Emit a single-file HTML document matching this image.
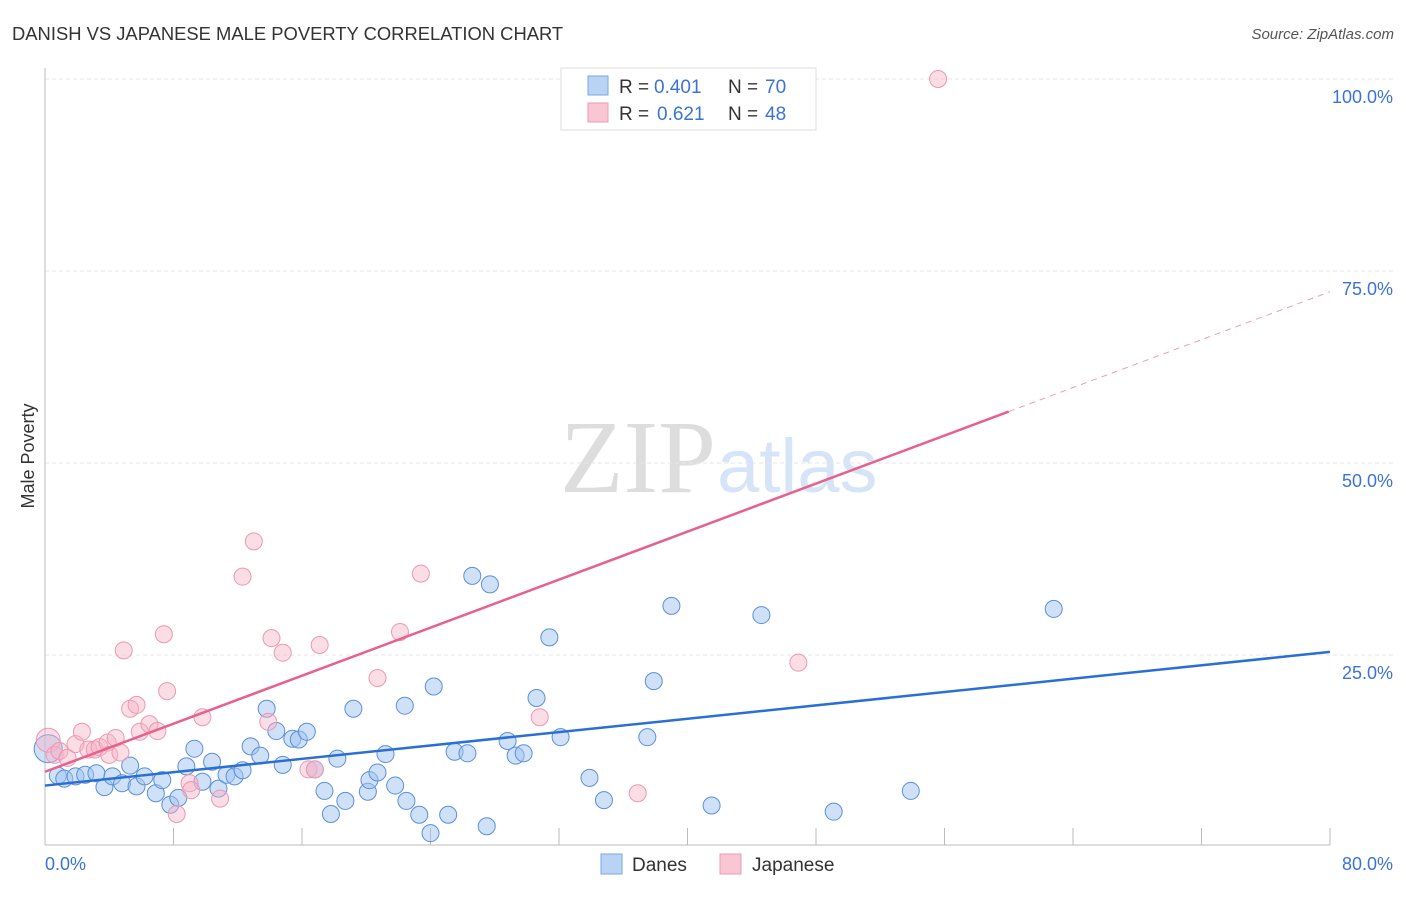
<!DOCTYPE html>
<html><head><meta charset="utf-8"><style>
body{margin:0;background:#fff;font-family:"Liberation Sans",sans-serif}
</style></head><body>
<svg width="1406" height="892" xmlns="http://www.w3.org/2000/svg">
<text x="12" y="40" font-size="18.4" fill="#333">DANISH VS JAPANESE MALE POVERTY CORRELATION CHART</text>
<text x="1394" y="39" font-size="15" fill="#555" font-style="italic" text-anchor="end">Source: ZipAtlas.com</text>
<text x="716" y="492" font-size="104" fill="#ddd" text-anchor="end" font-family="Liberation Serif">ZIP</text>
<text x="717" y="492" font-size="76" fill="#d6e4f7">atlas</text>
<g id="grid"></g>
<line x1="45" y1="68" x2="45" y2="845" stroke="#bbb"/>
<line x1="45" y1="845" x2="1330" y2="845" stroke="#bbb"/>
<text x="34" y="456" font-size="18" fill="#333" text-anchor="middle" transform="rotate(-90 34 456)">Male Poverty</text>
<text x="45" y="870" font-size="18" fill="#3a73d6">0.0%</text>
<text x="1393" y="870" font-size="18" fill="#3a73d6" text-anchor="end">80.0%</text>
<g id="pts"></g>
<g id="lines"></g>
<g>
<rect x="561" y="68" width="255" height="62" fill="#fff" stroke="#ddd"/>
<rect x="588" y="76" width="20" height="19" fill="#b9d3f5" stroke="#7aa6e6"/>
<rect x="588" y="103" width="20" height="19" fill="#f9c6d4" stroke="#ee9ab2"/>
<text y="93" font-size="19" fill="#333"><tspan x="619">R =</tspan><tspan x="654" fill="#3a73d6">0.401</tspan><tspan x="728">N =</tspan><tspan x="765" fill="#3a73d6">70</tspan></text>
<text y="120" font-size="19" fill="#333"><tspan x="619">R =</tspan><tspan x="657" fill="#3a73d6">0.621</tspan><tspan x="728">N =</tspan><tspan x="765" fill="#3a73d6">48</tspan></text>
</g>
<g>
<rect x="601" y="854" width="21" height="20" fill="#b9d3f5" stroke="#7aa6e6"/>
<text x="632" y="871" font-size="19" fill="#333">Danes</text>
<rect x="720" y="854" width="21" height="20" fill="#f9c6d4" stroke="#ee9ab2"/>
<text x="752" y="871" font-size="19" fill="#333">Japanese</text>
</g>
</svg>
<script>
const yTicks=[25,50,75,100];
const yTickLabels=["25.0%","50.0%","75.0%","100.0%"];
const danesX=[0.2,0.8,1.2,1.9,2.5,3.2,3.7,4.2,4.8,5.3,5.7,6.2,6.9,7.3,7.8,8.3,8.8,9.3,9.8,10.4,10.8,11.3,11.8,12.3,12.8,13.4,13.8,14.4,14.8,15.4,15.8,16.3,16.8,17.4,17.8,18.2,18.7,19.2,20.1,20.2,20.7,21.2,21.8,22.4,22.5,23.3,24.0,24.2,25.1,25.5,26.3,26.6,27.5,27.7,28.8,29.3,29.8,30.6,31.4,32.1,33.9,34.8,37.5,37.9,39.0,41.5,44.6,49.1,53.9,62.8];
const danesY=[12.8,9.3,8.9,9.2,9.4,9.6,7.8,9.2,8.3,10.6,7.9,9.2,7.0,8.7,5.5,6.4,10.5,12.8,8.5,11.1,7.6,9.4,9.2,10.0,13.1,11.9,18.0,15.1,10.7,14.1,14.0,15.0,10.1,7.3,4.3,11.5,6.0,18.0,7.2,8.7,9.7,12.1,8.0,18.4,6.0,4.2,1.8,20.9,4.2,12.4,12.2,35.3,2.7,34.2,13.8,11.9,12.2,19.4,27.3,14.3,9.0,6.1,14.3,21.6,31.4,5.4,30.2,4.6,7.3,31.0];
const japX=[0.2,0.6,0.9,1.4,1.9,2.3,2.7,3.1,3.4,3.9,4.0,4.4,4.7,4.9,5.3,5.7,5.9,6.5,7.0,7.4,7.6,8.2,9.0,9.1,9.8,10.9,12.3,13.0,13.9,14.1,14.8,16.4,16.8,17.1,20.7,22.1,23.4,30.8,36.9,46.9,55.6];
const japY=[13.9,12.0,12.5,11.6,13.4,15.0,12.7,12.7,13.0,13.6,12.0,14.2,12.3,25.6,18.0,18.5,15.0,16.0,15.1,27.7,20.3,4.3,8.3,7.4,16.9,6.3,35.2,39.8,16.3,27.2,25.3,10.1,10.1,26.3,22.0,28.0,35.6,16.9,7.0,24.0,100];
const blueLine=[[0,8.0],[80,25.4]];
const pinkSolid=[[0,9.8],[60,56.7]];
const pinkDash=[[60,56.7],[80,72.3]];
const NS="http://www.w3.org/2000/svg";
const X=v=>45+v/80*1285, Y=v=>847-v/100*768;
function mk(tag,a,parent){const e=document.createElementNS(NS,tag);for(const k in a)e.setAttribute(k,a[k]);parent.appendChild(e);return e;}
const grid=document.getElementById('grid');
yTicks.forEach((t,i)=>{
 const l=mk('line',{x1:45,x2:1395,y1:Y(t),y2:Y(t),stroke:'#e6e6e6','stroke-dasharray':'4,3'},grid);
 
 
 const tx=mk('text',{x:1393,y:Y(t)+24,'font-size':18,fill:'#3a73d6','text-anchor':'end'},grid);
 tx.textContent=yTickLabels[i];
 
 
});
for(let i=1;i<=10;i++){const l=mk('line',{x1:X(i*8),x2:X(i*8),y1:828,y2:845,stroke:'#bbb'},grid);
 
 }
const pts=document.getElementById('pts');
danesX.forEach((x,i)=>{const c=mk('circle',{cx:X(x),cy:Y(danesY[i]),r:i==0?14:8.5,fill:'rgba(160,196,240,0.5)',stroke:'#5b8fdc','stroke-width':1},pts);
 
 });
japX.forEach((x,i)=>{const c=mk('circle',{cx:X(x),cy:Y(japY[i]),r:i==0?12:8.5,fill:'rgba(247,180,200,0.45)',stroke:'#ec98b2','stroke-width':1},pts);
 
 });
const lines=document.getElementById('lines');
function ln(p,st,dash,name){const l=mk('line',{x1:X(p[0][0]),y1:Y(p[0][1]),x2:X(p[1][0]),y2:Y(p[1][1]),stroke:st,'stroke-width':dash?1:2.5},lines);if(dash)l.setAttribute('stroke-dasharray','6,5');
 
 }
ln(blueLine,'#2a6fd6',false,'danes-trendline');
ln(pinkSolid,'#e8608c',false,'japanese-trendline');
ln(pinkDash,'#e8a0b8',true,'japanese-trendline-extension');
</script>
</body></html>
